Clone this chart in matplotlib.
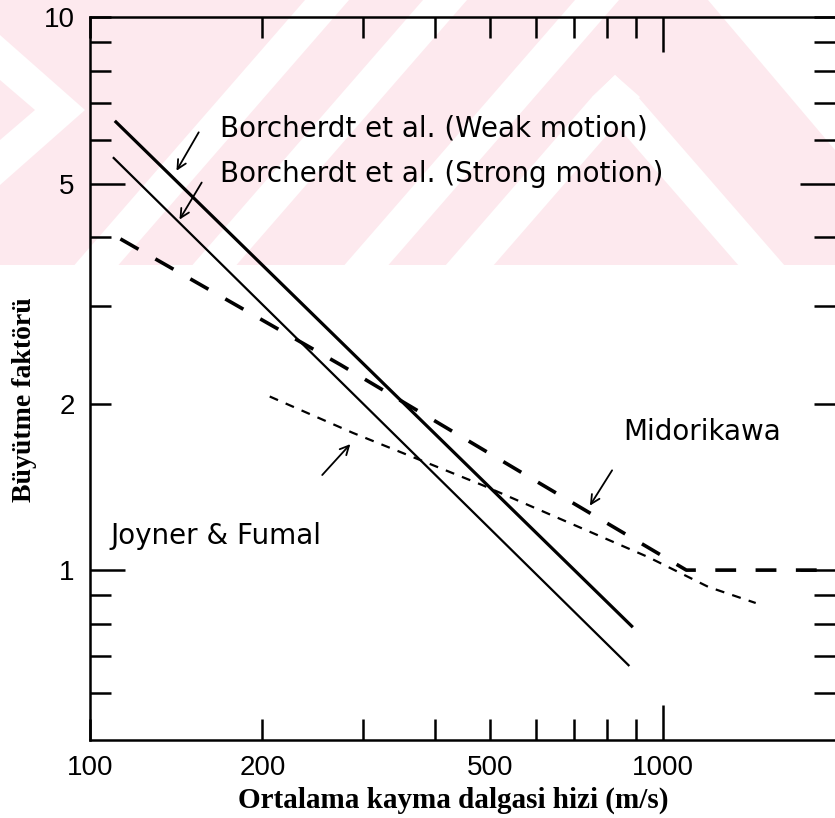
import matplotlib
matplotlib.use("Agg")
import matplotlib.pyplot as plt
from matplotlib.patches import Polygon, Rectangle
from matplotlib.ticker import FixedLocator, FuncFormatter

# data (velocity m/s, amplification)
weak_v = [111, 883]
weak_amp = [6.46, 0.792]
strong_v = [110, 872]
strong_amp = [5.56, 0.673]
midori_v = [113, 274, 600, 1100, 2000]
midori_amp = [3.97, 2.35, 1.45, 1.0, 1.0]
jf_v = [206, 288, 484, 945, 1203, 1454]
jf_amp = [2.06, 1.77, 1.425, 1.055, 0.932, 0.872]

# annotation text: (label, x, y)
labels = [
    ("Borcherdt et al. (Weak motion)", 169, 6.07),
    ("Borcherdt et al. (Strong motion)", 169, 5.03),
    ("Joyner & Fumal", 108.4, 1.114),
    ("Midorikawa", 855, 1.718),
]
# arrows: (tail x, tail y, head x, head y)
arrows = [
    (155.7, 6.25, 140.8, 5.22),
    (157.6, 5.07, 142.5, 4.26),
    (252.5, 1.473, 287, 1.704),
    (821, 1.53, 742, 1.295),
]

y_major = [1, 5]
y_minor = [0.6, 0.7, 0.8, 0.9, 2, 3, 4, 6, 7, 8, 9, 10]
y_labels = {1: "1", 2: "2", 5: "5", 10: "10"}
x_major = [1000]
x_minor = [100, 200, 300, 400, 500, 600, 700, 800, 900]
x_labels = {100: "100", 200: "200", 500: "500", 1000: "1000"}

plt.rcParams['lines.scale_dashes'] = False

W, H = 835, 818
fig = plt.figure(figsize=(W / 100, H / 100), dpi=100)

# pink thesis watermark in the upper band of the page
pink = '#fde9ee'
def px(pts):
    return [(x / W, 1 - y / H) for x, y in pts]

fig.patches.append(Rectangle((0, 1 - 265 / H), 1, 265 / H, transform=fig.transFigure,
                             facecolor=pink, edgecolor='none', zorder=-3))
k = 0.87
white_shapes = []
for c in [327, 445, 597]:
    w = 22
    white_shapes.append([(c - w, 0), (c + w, 0), (c + w - 265 * k, 265), (c - w - 265 * k, 265)])
white_shapes.append([(708, 0), (835, 0), (835, 150)])
white_shapes.append([(615, 75), (640, 97), (640 - 168 * k, 265), (592 - 168 * k, 265), (592, 97)])
white_shapes.append([(615, 75), (638, 97), (638 + 168 * k, 265), (592 + 168 * k, 265), (592, 97)])
white_shapes.append([(0, 35), (85, 110), (0, 185), (0, 140), (35, 110), (0, 80)])
for s in white_shapes:
    fig.patches.append(Polygon(px(s), closed=True, transform=fig.transFigure,
                               facecolor='white', edgecolor='none', zorder=-2))

ax = fig.add_axes([90 / W, 78 / H, 745 / W, 723 / H])
ax.patch.set_alpha(0)
ax.set_xscale('log')
ax.set_yscale('log')
ax.set_xlim(100, 2000)
ax.set_ylim(0.493, 10)

ax.plot(weak_v, weak_amp, color='black', lw=2.3)
ax.plot(strong_v, strong_amp, color='black', lw=1.6)
ax.plot(midori_v, midori_amp, color='black', lw=2.6, dashes=(15, 14))
ax.plot(jf_v, jf_amp, color='black', lw=1.6, dashes=(6.5, 6))

for text, x, y in labels:
    ax.text(x, y, text, fontsize=20, family='DejaVu Sans', va='baseline', ha='left')
for x0, y0, x1, y1 in arrows:
    ax.annotate('', xy=(x1, y1), xytext=(x0, y0),
                arrowprops=dict(arrowstyle='->', lw=1.3, color='black', mutation_scale=16))

ax.xaxis.set_major_locator(FixedLocator(x_major))
ax.xaxis.set_minor_locator(FixedLocator(x_minor))
ax.yaxis.set_major_locator(FixedLocator(y_major))
ax.yaxis.set_minor_locator(FixedLocator(y_minor))
xfmt = FuncFormatter(lambda v, p: x_labels.get(int(round(v)), ""))
yfmt = FuncFormatter(lambda v, p: y_labels.get(v, "") if v >= 1 else "")
ax.xaxis.set_major_formatter(xfmt)
ax.xaxis.set_minor_formatter(xfmt)
ax.yaxis.set_major_formatter(yfmt)
ax.yaxis.set_minor_formatter(yfmt)

ax.tick_params(which='both', direction='in', top=True, right=True, width=1.8,
               labelsize=20, pad=11)
ax.tick_params(which='major', length=25)
ax.tick_params(which='minor', length=15)
for lab in ax.get_xticklabels(which='both') + ax.get_yticklabels(which='both'):
    lab.set_family('Liberation Sans')

for side in ['left', 'bottom', 'top']:
    ax.spines[side].set_linewidth(1.8)
ax.spines['right'].set_visible(False)

fig.text(453 / W, 1 - 800 / H, 'Ortalama kayma dalgasi hizi (m/s)', ha='center', va='center',
         family='Liberation Serif', fontsize=21, fontweight='bold')
fig.text(25 / W, 1 - 400 / H, 'Büyütme faktörü', ha='center', va='center', rotation=90,
         family='Liberation Serif', fontsize=20, fontweight='bold')

fig.savefig('out.png', dpi=100)
